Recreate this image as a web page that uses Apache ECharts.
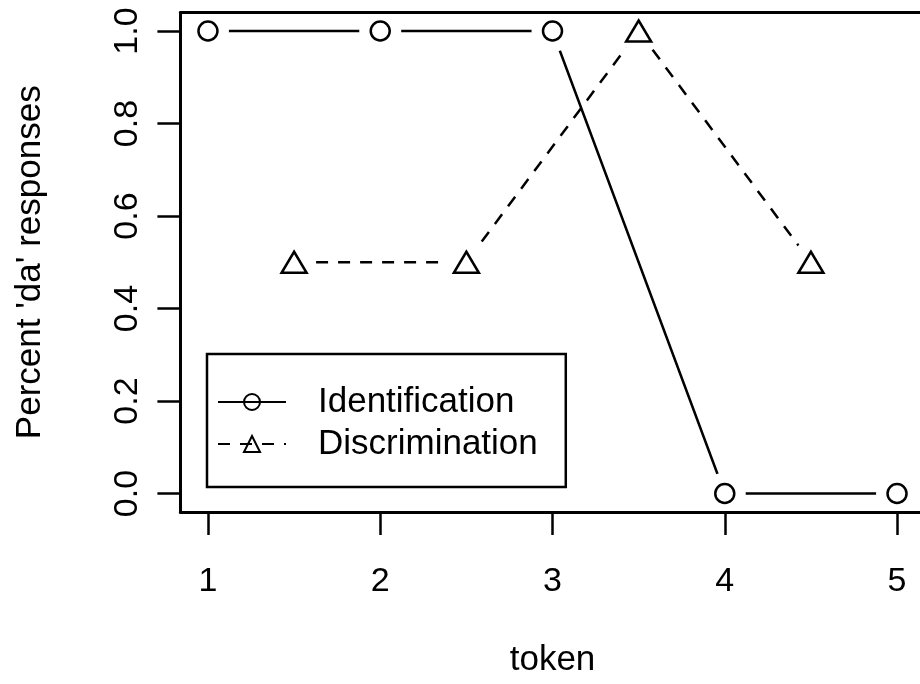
<!DOCTYPE html>
<html>
<head>
<meta charset="utf-8">
<script src="https://cdn.jsdelivr.net/npm/echarts@6/dist/echarts.min.js"></script>
<style>
  html, body { margin: 0; padding: 0; background: #fff; }
  #chart { width: 920px; height: 684px; }
</style>
</head>
<body>
<div id="chart"></div>
<script>
// Identification responses, one per token step
const tokens = [1, 2, 3, 4, 5];
const identification = [1, 1, 1, 0, 0];

// Discrimination responses, measured between neighbouring tokens
const discTokens = [1.5, 2.5, 3.5, 4.5];
const discrimination = [0.5, 0.5, 1, 0.5];

// Tick positions on each axis
const xTicks = [1, 2, 3, 4, 5];
const yTicks = [0, 0.2, 0.4, 0.6, 0.8, 1.0];

const FONT = "'Liberation Sans', Arial, Helvetica, sans-serif";
const INK = '#000';
const LW = 2.5;

const pairs = (xs, ys) => xs.map((x, i) => [x, ys[i]]);
const idData = pairs(tokens, identification);
const discData = pairs(discTokens, discrimination);

const chart = echarts.init(document.getElementById('chart'), null, { renderer: 'canvas' });

// White discs under each marker leave the small gap around points
function gapLayer(data, z) {
  return {
    type: 'scatter', data, symbol: 'circle', symbolSize: 42, silent: true, z,
    itemStyle: { color: '#fff', borderWidth: 0, opacity: 1 },
    emphasis: { disabled: true }, animation: false
  };
}
function markerLayer(data, symbol, size, z) {
  return {
    type: 'scatter', data, symbol, symbolSize: size, silent: true, z,
    itemStyle: { color: '#fff', borderColor: INK, borderWidth: LW, opacity: 1 },
    emphasis: { disabled: true }, animation: false
  };
}

const option = {
  backgroundColor: '#fff',
  animation: false,
  grid: { left: 180.4, top: 12.5, width: 744.2, height: 499.5, show: false,
          containLabel: false, outerBoundsMode: 'none' },
  xAxis: [{
    type: 'value', position: 'bottom', min: 0.84, max: 5.16, z: 10,
    name: 'token', nameLocation: 'middle', nameGap: 131,
    nameTextStyle: { fontFamily: FONT, fontSize: 35, color: INK },
    axisLine: { show: true, onZero: false, lineStyle: { color: INK, width: 3 } },
    axisTick: { show: true, inside: false, length: 23, customValues: xTicks, lineStyle: { color: INK, width: LW } },
    axisLabel: { show: true, margin: 53, customValues: xTicks, fontFamily: FONT, fontSize: 34, color: INK,
                 formatter: v => String(v) },
    splitLine: { show: false }
  }, {
    type: 'value', position: 'top', min: 0.84, max: 5.16, z: 10,
    axisLine: { show: true, onZero: false, lineStyle: { color: INK, width: 3 } },
    axisTick: { show: false }, axisLabel: { show: false }, splitLine: { show: false }
  }],
  yAxis: [{
    type: 'value', position: 'left', min: -0.04, max: 1.04, z: 10,
    name: "Percent 'da' responses", nameLocation: 'middle', nameGap: 133, nameRotate: 90,
    nameTextStyle: { fontFamily: FONT, fontSize: 35, color: INK },
    axisLine: { show: true, onZero: false, lineStyle: { color: INK, width: 3 } },
    axisTick: { show: true, inside: false, length: 23, customValues: yTicks, lineStyle: { color: INK, width: LW } },
    axisLabel: { show: true, rotate: 90, margin: 36, customValues: yTicks, fontFamily: FONT, fontSize: 34, color: INK,
                 formatter: v => v.toFixed(1) },
    splitLine: { show: false }
  }, {
    type: 'value', position: 'right', min: -0.04, max: 1.04, z: 10,
    axisLine: { show: true, onZero: false, lineStyle: { color: INK, width: 3 } },
    axisTick: { show: false }, axisLabel: { show: false }, splitLine: { show: false }
  }],
  legend: {
    show: true, orient: 'vertical', left: 207, top: 354,
    data: ['Identification', 'Discrimination'],
    itemWidth: 68, itemHeight: 20, itemGap: 6,
    backgroundColor: '#fff', borderColor: INK, borderWidth: 2.5, borderRadius: 0,
    padding: [30, 28, 25, 10],
    selectedMode: false,
    textStyle: { fontFamily: FONT, fontSize: 35, color: INK, lineHeight: 36, padding: [0, 0, 0, 27] }
  },
  series: [
    {
      name: 'Identification', type: 'line', data: idData, z: 2,
      symbol: 'circle', symbolSize: 15,
      lineStyle: { color: INK, width: LW, type: 'solid' },
      itemStyle: { color: 'rgba(255,255,255,0)', borderColor: INK, borderWidth: LW },
      emphasis: { disabled: true }, silent: true
    },
    {
      name: 'Discrimination', type: 'line', data: discData, z: 2,
      symbol: 'triangle', symbolSize: [20, 17],
      lineStyle: { color: INK, width: LW, type: [12, 10] },
      itemStyle: { color: 'rgba(255,255,255,0)', borderColor: INK, borderWidth: LW },
      emphasis: { disabled: true }, silent: true
    },
    gapLayer(idData, 3),
    gapLayer(discData, 3),
    markerLayer(idData, 'circle', 19, 4),
    markerLayer(discData, 'triangle', [25, 21], 4)
  ]
};

chart.setOption(option);
</script>
</body>
</html>
